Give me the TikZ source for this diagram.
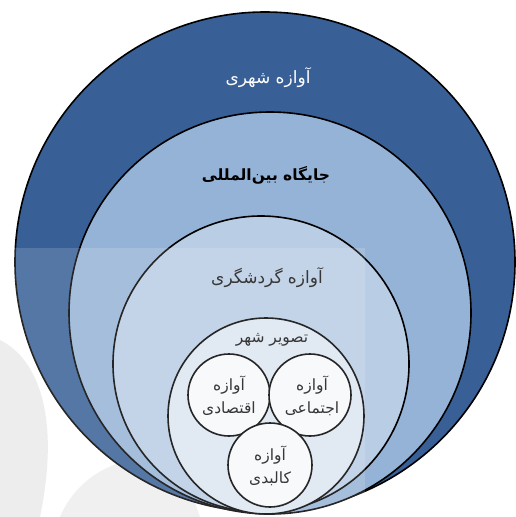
\documentclass[tikz,border=0pt]{standalone}
\usepackage{fontspec}
\newfontfamily\arabicfont[Script=Arabic]{DejaVu Sans}
\TeXXeTstate=1
\definecolor{cA}{RGB}{56,96,150}
\definecolor{cB}{RGB}{149,179,215}
\definecolor{cC}{RGB}{185,205,229}
\definecolor{cD}{RGB}{220,230,242}
\definecolor{cE}{RGB}{246,248,251}
\definecolor{txtgray}{RGB}{55,55,55}
\definecolor{wm}{RGB}{120,120,120}
\tikzset{
  ring/.style={draw=black, line width=1.6pt},
  lbl/.style={font=\arabicfont\fontsize{17}{20}\selectfont, align=center, inner sep=0pt},
  small/.style={font=\arabicfont\fontsize{15.5}{23}\selectfont, align=center, inner sep=0pt}
}
\begin{document}
\begin{tikzpicture}[x=1pt,y=-1pt]
\useasboundingbox (0,0) rectangle (515,517);
\fill[white] (0,0) rectangle (515,517);
% faint watermark outside the circles
\fill[wm, opacity=0.14] (0,340) .. controls (40,360) and (60,420) .. (40,517) -- (0,517) -- cycle;
\fill[wm, opacity=0.12] (60,517) .. controls (80,470) and (130,450) .. (180,460) -- (200,517) -- cycle;
% nested circles
\path[ring, fill=cA] (265,262) circle[radius=250pt];
\path[ring, fill=cB] (270,313) circle[radius=201pt];
\path[ring, fill=cC] (261,364) circle[radius=148pt];
\path[ring, fill=cD] (266,416) circle[radius=98pt];
\path[ring, fill=cE] (229,395) circle[radius=41pt];
\path[ring, fill=cE] (310,395) circle[radius=41pt];
\path[ring, fill=cE] (270,465) circle[radius=42pt];
% watermark band
\fill[white, opacity=0.15] (0,248) rectangle (365,517);
% labels
\node[lbl, text=white] (t1) at (268,78) {\beginR آوازه شهری\endR};
\node[lbl, text=black, font=\arabicfont\bfseries\fontsize{15.5}{20}\selectfont] (t2) at (266,175) {\beginR جایگاه بین‌المللی\endR};
\node[lbl, text=txtgray] (t3) at (267,278) {\beginR آوازه گردشگری\endR};
\node[small, text=txtgray] (t4) at (272,340) {\beginR تصویر شهر\endR};
\node[small, text=txtgray] (t5) at (229,396) {\beginR آوازه\endR\\\beginR اقتصادی\endR};
\node[small, text=txtgray] (t6) at (312,396) {\beginR آوازه\endR\\\beginR اجتماعی\endR};
\node[small, text=txtgray] (t7) at (270,466) {\beginR آوازه\endR\\\beginR کالبدی\endR};
\end{tikzpicture}
\end{document}
